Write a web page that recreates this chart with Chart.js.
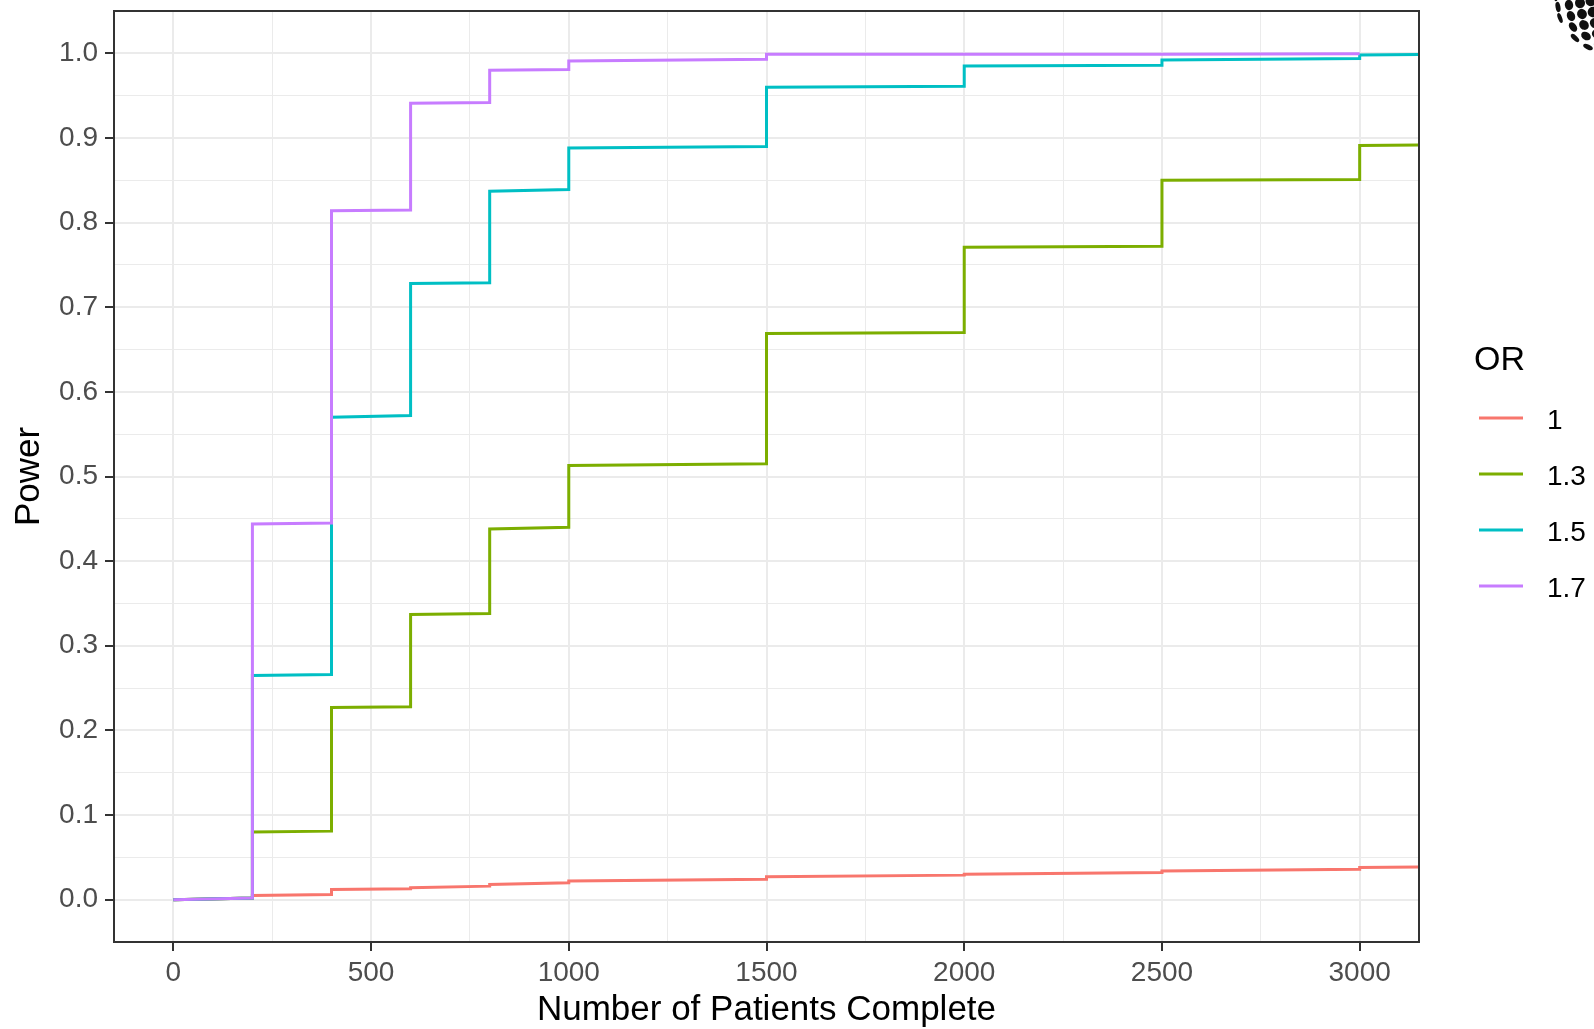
<!DOCTYPE html>
<html>
<head>
<meta charset="utf-8">
<script src="https://cdn.jsdelivr.net/npm/chart.js@4.4.1/dist/chart.umd.min.js"></script>
<style>
  html, body { margin: 0; padding: 0; background: #fff; }
  #wrap { width: 1594px; height: 1029px; position: relative; }
</style>
</head>
<body>
<div id="wrap"><canvas id="chart" width="1594" height="1029"></canvas></div>
<script>
// interim analyses (number of patients complete) where power steps up
const analysisN = [0, 200, 400, 600, 800, 1000, 1500, 2000, 2500, 3000];
const tailN = 3200; // last segment runs off the panel

// power at start / end of each segment, per odds ratio
const or1Start  = [0.000, 0.005, 0.012, 0.014, 0.018, 0.022, 0.027, 0.030, 0.034, 0.038];
const or1End    = [0.002, 0.006, 0.013, 0.016, 0.020, 0.024, 0.029, 0.032, 0.036, 0.039];
const or13Start = [0.000, 0.080, 0.227, 0.337, 0.438, 0.513, 0.669, 0.771, 0.850, 0.891];
const or13End   = [0.002, 0.081, 0.228, 0.338, 0.440, 0.515, 0.670, 0.772, 0.851, 0.892];
const or15Start = [0.000, 0.265, 0.570, 0.728, 0.837, 0.888, 0.960, 0.985, 0.992, 0.998];
const or15End   = [0.002, 0.266, 0.572, 0.729, 0.839, 0.890, 0.961, 0.986, 0.994, 0.999];
const or17Start = [0.000, 0.444, 0.814, 0.941, 0.980, 0.991, 0.999, 0.999, 0.999];
const or17End   = [0.002, 0.445, 0.815, 0.942, 0.981, 0.993, 0.999, 0.999, 0.9995];

const seriesLabels = ['1', '1.3', '1.5', '1.7'];
const seriesColors = ['#F8766D', '#7CAE00', '#00BFC4', '#C77CFF'];

const xMajorTicks = [0, 500, 1000, 1500, 2000, 2500, 3000];
const yMajorTicks = [0.0, 0.1, 0.2, 0.3, 0.4, 0.5, 0.6, 0.7, 0.8, 0.9, 1.0];

// minor grid sits halfway between majors (ggplot style)
function withMinors(majors) {
    const out = [];
    majors.forEach((v, i) => {
        out.push({ value: v, major: true });
        if (i < majors.length - 1) out.push({ value: (v + majors[i + 1]) / 2, major: false });
    });
    return out;
}

function stepPoints(starts, ends) {
    const pts = [];
    starts.forEach((s, i) => {
        const x0 = analysisN[i];
        const x1 = i + 1 < analysisN.length ? analysisN[i + 1] : tailN;
        pts.push({ x: x0, y: s });
        pts.push({ x: x1, y: ends[i] });
    });
    return pts;
}

const seriesData = [
    stepPoints(or1Start, or1End),
    stepPoints(or13Start, or13End),
    stepPoints(or15Start, or15End),
    stepPoints(or17Start, or17End)
];

const FONT = '"Liberation Sans", Arial, Helvetica, sans-serif';
const isMajor = ctx => ctx.tick && ctx.tick.major;

// panel border, legend and the corner logo
const decorations = {
    id: 'decorations',
    afterDatasetsDraw(chart) {
        const { ctx, chartArea: a } = chart;
        ctx.save();
        ctx.strokeStyle = '#333333';
        ctx.lineWidth = 2;
        ctx.strokeRect(a.left, a.top, a.right - a.left, a.bottom - a.top);
        ctx.restore();
    },
    afterDraw(chart) {
        const ctx = chart.ctx;
        ctx.save();
        ctx.fillStyle = '#000';
        ctx.font = '34px ' + FONT;
        ctx.textBaseline = 'alphabetic';
        ctx.fillText('OR', 1474, 370);

        chart.data.datasets.forEach((ds, i) => {
            const y = 418 + i * 56;
            ctx.strokeStyle = ds.borderColor;
            ctx.lineWidth = 3;
            ctx.beginPath();
            ctx.moveTo(1479, y);
            ctx.lineTo(1523, y);
            ctx.stroke();
            ctx.fillStyle = '#000';
            ctx.font = '28px ' + FONT;
            ctx.fillText(ds.label, 1547, y + 11);
        });

        // dotted sphere logo, cut off at the top-right corner
        const cx = 1613, cy = -3, R = 58;
        ctx.fillStyle = '#111';
        for (let gx = -6; gx <= 6; gx++) {
            for (let gy = -6; gy <= 6; gy++) {
                const px = cx + gx * 11 + gy * 2;
                const py = cy + gy * 11 - gx * 2;
                const d = Math.hypot(px - cx, py - cy);
                if (d > R) continue;
                const k = Math.sqrt(1 - (d / R) * (d / R));
                const ang = Math.atan2(py - cy, px - cx);
                ctx.beginPath();
                ctx.ellipse(px, py, 1.2 + 4.6 * k, 5.2, ang, 0, Math.PI * 2);
                ctx.fill();
            }
        }
        ctx.restore();
    }
};

new Chart(document.getElementById('chart'), {
    type: 'line',
    data: {
        datasets: seriesData.map((pts, i) => ({
            label: seriesLabels[i],
            data: pts,
            borderColor: seriesColors[i],
            backgroundColor: seriesColors[i],
            borderWidth: 3,
            pointRadius: 0,
            tension: 0,
            fill: false,
            order: seriesData.length - i // later series drawn on top, like ggplot
        }))
    },
    options: {
        responsive: false,
        animation: false,
        parsing: false,
        layout: { padding: { top: 11, right: 175, bottom: 0, left: 0 } },
        plugins: {
            legend: { display: false },
            tooltip: { enabled: false }
        },
        scales: {
            x: {
                type: 'linear',
                min: -150,
                max: 3150,
                afterBuildTicks: s => { s.ticks = withMinors(xMajorTicks); },
                afterFit: s => { s.height = 87; s.paddingLeft = 0; s.paddingRight = 0; },
                ticks: {
                    autoSkip: false,
                    maxRotation: 0,
                    padding: 5,
                    color: '#4D4D4D',
                    font: { family: FONT, size: 28 },
                    callback: (v, i, ticks) => ticks[i].major ? String(v) : ''
                },
                grid: {
                    color: '#EBEBEB',
                    lineWidth: ctx => isMajor(ctx) ? 2 : 1,
                    tickColor: ctx => isMajor(ctx) ? '#333333' : 'rgba(0,0,0,0)',
                    tickLength: 9,
                    tickWidth: 2
                },
                border: { display: true, color: '#333333', width: 2 },
                title: {
                    display: true,
                    text: 'Number of Patients Complete',
                    color: '#000',
                    font: { family: FONT, size: 35 },
                    padding: { top: 0, bottom: -2 }
                }
            },
            y: {
                type: 'linear',
                min: -0.05,
                max: 1.05,
                afterBuildTicks: s => { s.ticks = withMinors(yMajorTicks); },
                afterFit: s => { s.width = 114; s.paddingTop = 0; s.paddingBottom = 0; },
                ticks: {
                    autoSkip: false,
                    padding: 7,
                    color: '#4D4D4D',
                    font: { family: FONT, size: 28 },
                    callback: (v, i, ticks) => ticks[i].major ? v.toFixed(1) : ''
                },
                grid: {
                    color: '#EBEBEB',
                    lineWidth: ctx => isMajor(ctx) ? 2 : 1,
                    tickColor: ctx => isMajor(ctx) ? '#333333' : 'rgba(0,0,0,0)',
                    tickLength: 9,
                    tickWidth: 2
                },
                border: { display: true, color: '#333333', width: 2 },
                title: {
                    display: true,
                    text: 'Power',
                    color: '#000',
                    font: { family: FONT, size: 35 },
                    padding: { top: 8, bottom: 0 }
                }
            }
        }
    },
    plugins: [decorations]
});
</script>
</body>
</html>
